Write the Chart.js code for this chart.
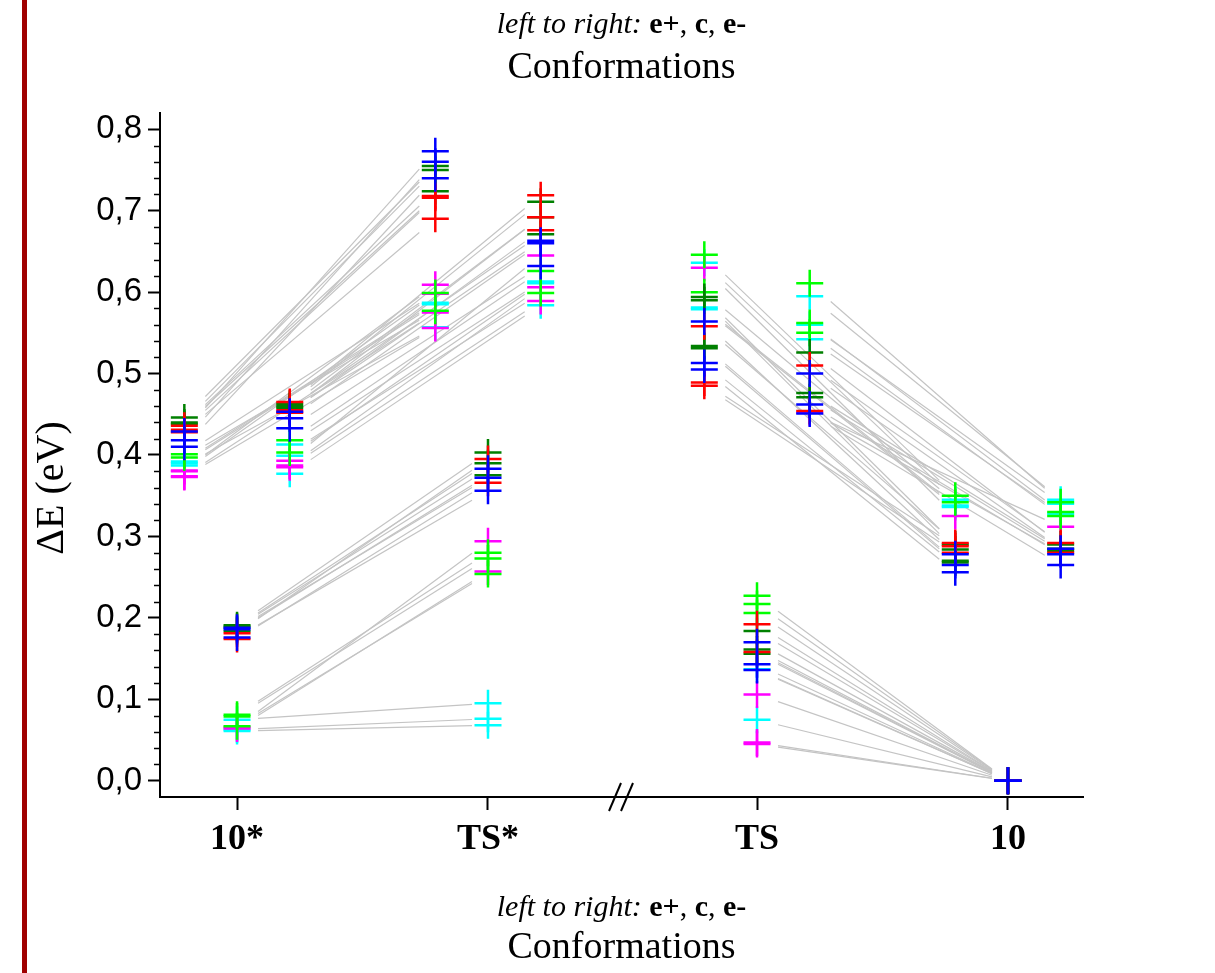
<!DOCTYPE html>
<html>
<head>
<meta charset="utf-8">
<script src="https://cdn.jsdelivr.net/npm/chart.js@4.4.1/dist/chart.umd.min.js"></script>
<style>
  body { margin: 0; background: #fff; }
  #wrap { width: 1215px; height: 973px; }
</style>
</head>
<body>
<div id="wrap"><canvas id="chart" width="1215" height="973"></canvas></div>
<script>
// categories along the x axis (TS and 10 sit after the axis break)
const catLabels = ['10*', 'TS*', 'TS', '10'];
const catPos = [0, 1, 2.072, 3.072];
// left to right inside a category: e+, c, e-
const confShift = { ep: -0.21, c: 0, em: 0.21 };
const yTicks = [0, 0.1, 0.2, 0.3, 0.4, 0.5, 0.6, 0.7, 0.8];
const breakPos = 1.53;

// ΔE values (eV) per column, grouped by marker colour
const star10_ep = { blue: [0.429, 0.418, 0.410], dkgreen: [0.446, 0.440, 0.438], red: [0.436, 0.431, 0.428], magenta: [0.381, 0.380, 0.374, 0.373], green: [0.401, 0.397], cyan: [0.392, 0.390, 0.387] };
const star10_c  = { blue: [0.188, 0.186, 0.176], dkgreen: [0.191, 0.189, 0.184], red: [0.181, 0.174], magenta: [0.066, 0.064], green: [0.081, 0.079, 0.067], cyan: [0.075, 0.063, 0.061] };
const star10_em = { blue: [0.453, 0.445, 0.433], dkgreen: [0.463, 0.460, 0.458], red: [0.465, 0.455, 0.452], magenta: [0.393, 0.387, 0.385], green: [0.418, 0.403], cyan: [0.413, 0.399, 0.377] };

const tsStar_ep = { blue: [0.773, 0.760, 0.740], dkgreen: [0.755, 0.750, 0.724], red: [0.718, 0.716, 0.690], magenta: [0.609, 0.598, 0.575, 0.556], green: [0.599, 0.577], cyan: [0.587, 0.585, 0.557] };
const tsStar_c  = { blue: [0.383, 0.372, 0.356], dkgreen: [0.403, 0.390, 0.375], red: [0.395, 0.366], magenta: [0.294, 0.257], green: [0.280, 0.273, 0.254], cyan: [0.095, 0.076, 0.068] };
const tsStar_em = { blue: [0.663, 0.660, 0.632], dkgreen: [0.711, 0.692, 0.671], red: [0.719, 0.692, 0.676], magenta: [0.645, 0.606, 0.589], green: [0.626, 0.599], cyan: [0.613, 0.611, 0.584] };

const ts_ep = { blue: [0.564, 0.513, 0.505], dkgreen: [0.594, 0.590, 0.534, 0.531], red: [0.558, 0.489, 0.485], magenta: [0.630], green: [0.646, 0.600], cyan: [0.636, 0.581, 0.579] };
const ts_c  = { blue: [0.170, 0.143, 0.136], dkgreen: [0.184, 0.161, 0.156], red: [0.192, 0.158], magenta: [0.106, 0.047, 0.045], green: [0.227, 0.217, 0.206], cyan: [0.137, 0.075] };
const ts_em = { blue: [0.500, 0.462, 0.451], dkgreen: [0.526, 0.476, 0.471], red: [0.510, 0.454], magenta: [0.452], green: [0.611, 0.562, 0.550], cyan: [0.595, 0.560, 0.542] };

const p10_ep = { blue: [0.278, 0.265, 0.256], dkgreen: [0.290, 0.284, 0.270, 0.268], red: [0.292, 0.288, 0.280], magenta: [0.325], green: [0.350, 0.342], cyan: [0.345, 0.338, 0.336] };
const p10_c  = { blue: [0, 0, 0], dkgreen: [0, 0, 0], red: [0, 0], magenta: [0, 0, 0], green: [0, 0, 0], cyan: [0, 0] };
const p10_em = { blue: [0.285, 0.278, 0.265], dkgreen: [0.290, 0.285, 0.282], red: [0.292, 0.280], magenta: [0.312], green: [0.342, 0.330, 0.325], cyan: [0.345, 0.340, 0.328] };

const columns = [
  { cat: 0, conf: 'ep', vals: star10_ep }, { cat: 0, conf: 'c', vals: star10_c }, { cat: 0, conf: 'em', vals: star10_em },
  { cat: 1, conf: 'ep', vals: tsStar_ep }, { cat: 1, conf: 'c', vals: tsStar_c }, { cat: 1, conf: 'em', vals: tsStar_em },
  { cat: 2, conf: 'ep', vals: ts_ep },     { cat: 2, conf: 'c', vals: ts_c },     { cat: 2, conf: 'em', vals: ts_em },
  { cat: 3, conf: 'ep', vals: p10_ep },    { cat: 3, conf: 'c', vals: p10_c },    { cat: 3, conf: 'em', vals: p10_em }
];
// grey connectors: column a -> column b, same colour, same index
const links = [[0, 3], [1, 4], [2, 5], [6, 9], [7, 10], [8, 11]];

// first dataset ends up on top
const colorOrder = ['blue', 'red', 'dkgreen', 'green', 'magenta', 'cyan'];
const colorHex = { blue: '#0000ff', red: '#ff0000', dkgreen: '#008000', green: '#00ff00', magenta: '#ff00ff', cyan: '#00ffff' };

const colX = c => catPos[c.cat] + confShift[c.conf];

const datasets = colorOrder.map(col => ({
  label: col,
  data: columns.flatMap(c => (c.vals[col] || []).map(v => ({ x: colX(c), y: v }))),
  pointStyle: 'cross',
  pointRadius: 13.5,
  pointBorderWidth: 2.5,
  pointBorderColor: colorHex[col],
  borderColor: colorHex[col],
  showLine: false
}));

const connectors = {
  id: 'connectors',
  beforeDatasetsDraw(chart) {
    const { ctx, scales: { x, y } } = chart;
    ctx.save();
    ctx.strokeStyle = '#c4c4c4';
    ctx.lineWidth = 1.2;
    links.forEach(([a, b]) => {
      const A = columns[a], B = columns[b];
      const xa = x.getPixelForValue(colX(A)), xb = x.getPixelForValue(colX(B));
      const t0 = 21 / (xb - xa), t1 = 1 - 16 / (xb - xa);
      colorOrder.forEach(col => {
        const va = A.vals[col] || [], vb = B.vals[col] || [];
        for (let i = 0; i < Math.min(va.length, vb.length); i++) {
          const ya = y.getPixelForValue(va[i]), yb = y.getPixelForValue(vb[i]);
          ctx.beginPath();
          ctx.moveTo(xa + (xb - xa) * t0, ya + (yb - ya) * t0);
          ctx.lineTo(xa + (xb - xa) * t1, ya + (yb - ya) * t1);
          ctx.stroke();
        }
      });
    });
    ctx.restore();
  }
};

function drawMixed(ctx, parts, cx, cy) {
  let total = 0;
  parts.forEach(p => { ctx.font = p.font; p.w = ctx.measureText(p.text).width; total += p.w; });
  let xx = cx - total / 2;
  parts.forEach(p => { ctx.font = p.font; ctx.fillText(p.text, xx, cy); xx += p.w; });
}

const titleParts = () => [
  { text: 'left to right: ', font: 'italic 30px "Liberation Serif"' },
  { text: 'e+', font: 'bold 30px "Liberation Serif"' },
  { text: ', ', font: '30px "Liberation Serif"' },
  { text: 'c', font: 'bold 30px "Liberation Serif"' },
  { text: ', ', font: '30px "Liberation Serif"' },
  { text: 'e-', font: 'bold 30px "Liberation Serif"' }
];

const decor = {
  id: 'decor',
  beforeDraw(chart) {
    const ctx = chart.ctx;
    ctx.save();
    ctx.fillStyle = '#a00000';
    ctx.fillRect(22, 0, 5, chart.height);
    ctx.restore();
  },
  afterDraw(chart) {
    const { ctx, chartArea, scales: { x, y } } = chart;
    ctx.save();
    ctx.strokeStyle = '#000';
    // minor ticks on y
    ctx.lineWidth = 1.5;
    for (let k = 0; k <= 40; k++) {
      if (k % 5 === 0) continue;
      const py = Math.round(y.getPixelForValue(k * 0.02)) + 0.5;
      ctx.beginPath();
      ctx.moveTo(chartArea.left - 6, py);
      ctx.lineTo(chartArea.left, py);
      ctx.stroke();
    }
    // axis break mark
    const bx = x.getPixelForValue(breakPos);
    const by = chartArea.bottom;
    ctx.lineWidth = 2;
    [-6, 6].forEach(d => {
      ctx.beginPath();
      ctx.moveTo(bx + d - 6, by + 14);
      ctx.lineTo(bx + d + 6, by - 14);
      ctx.stroke();
    });
    // titles above and below
    ctx.fillStyle = '#000';
    ctx.textBaseline = 'middle';
    const cx = (chartArea.left + chartArea.right) / 2;
    drawMixed(ctx, titleParts(), cx, 25);
    drawMixed(ctx, [{ text: 'Conformations', font: '38px "Liberation Serif"' }], cx, 68);
    drawMixed(ctx, titleParts(), cx, 908);
    drawMixed(ctx, [{ text: 'Conformations', font: '38px "Liberation Serif"' }], cx, 948);
    // y axis title
    ctx.translate(52, 488);
    ctx.rotate(-Math.PI / 2);
    ctx.textAlign = 'center';
    ctx.font = '40px "Liberation Serif"';
    ctx.fillText('ΔE (eV)', 0, 0);
    ctx.restore();
  }
};

new Chart(document.getElementById('chart'), {
  type: 'scatter',
  data: { datasets: datasets },
  options: {
    responsive: false,
    animation: false,
    events: [],
    layout: { padding: { top: 113, right: 132, left: 0, bottom: 0 } },
    plugins: { legend: { display: false }, tooltip: { enabled: false } },
    scales: {
      x: {
        type: 'linear',
        min: -0.307,
        max: 3.371,
        afterBuildTicks: s => { s.ticks = catPos.map(v => ({ value: v })); },
        afterFit: s => { s.height = 176; },
        ticks: {
          callback: (v, i) => catLabels[i],
          autoSkip: false,
          maxRotation: 0,
          padding: 8,
          color: '#000',
          font: { family: 'Liberation Serif', size: 36, weight: 'bold' }
        },
        grid: { drawOnChartArea: false, drawTicks: true, tickLength: 13, tickWidth: 2, tickColor: '#000', color: '#000' },
        border: { display: true, color: '#000', width: 2 }
      },
      y: {
        min: -0.02,
        max: 0.82,
        afterBuildTicks: s => { s.ticks = yTicks.map(v => ({ value: v })); },
        afterFit: s => { s.width = 160; },
        ticks: {
          callback: v => v.toFixed(1).replace('.', ','),
          padding: 6,
          color: '#000',
          font: { family: 'Liberation Sans', size: 33 }
        },
        grid: { drawOnChartArea: false, drawTicks: true, tickLength: 12, tickWidth: 2, tickColor: '#000', color: '#000' },
        border: { display: true, color: '#000', width: 2 }
      }
    }
  },
  plugins: [connectors, decor]
});
</script>
</body>
</html>
